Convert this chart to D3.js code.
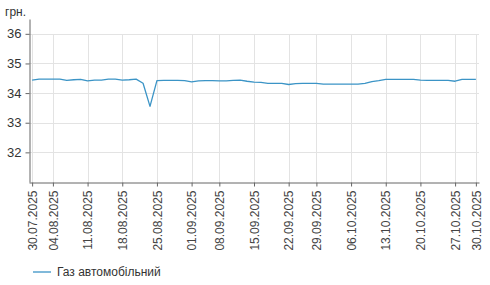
<!DOCTYPE html>
<html>
<head>
<meta charset="utf-8">
<script src="https://cdn.jsdelivr.net/npm/d3@7"></script>
<style>
  body { margin: 0; background: #fff; }
  svg { font-family: Arial, "Liberation Sans", sans-serif; }
</style>
</head>
<body>
<svg id="chart" width="490" height="285"></svg>
<script>
// дні з даними (робочі дні)
var dates = [
    "30.07.2025", "31.07.2025", "01.08.2025",
    "04.08.2025", "05.08.2025", "06.08.2025", "07.08.2025", "08.08.2025",
    "11.08.2025", "12.08.2025", "13.08.2025", "14.08.2025", "15.08.2025",
    "18.08.2025", "19.08.2025", "20.08.2025", "21.08.2025", "22.08.2025",
    "25.08.2025", "26.08.2025", "27.08.2025", "28.08.2025", "29.08.2025",
    "01.09.2025", "02.09.2025", "03.09.2025", "04.09.2025",
    "08.09.2025", "09.09.2025", "10.09.2025", "11.09.2025", "12.09.2025",
    "15.09.2025", "16.09.2025", "17.09.2025", "18.09.2025", "19.09.2025",
    "22.09.2025", "23.09.2025", "24.09.2025", "25.09.2025",
    "29.09.2025", "30.09.2025", "01.10.2025", "02.10.2025", "03.10.2025",
    "06.10.2025", "07.10.2025", "08.10.2025", "09.10.2025", "10.10.2025",
    "13.10.2025", "14.10.2025", "15.10.2025", "16.10.2025", "17.10.2025",
    "20.10.2025", "21.10.2025", "22.10.2025", "23.10.2025", "24.10.2025",
    "27.10.2025", "28.10.2025", "29.10.2025", "30.10.2025"
];

// Газ автомобільний, грн.
var gasPrice = [
    34.44, 34.47, 34.47,
    34.47, 34.47, 34.43, 34.45, 34.46,
    34.41, 34.44, 34.44, 34.47, 34.47,
    34.44, 34.45, 34.47, 34.33, 33.55,
    34.42, 34.43, 34.43, 34.43, 34.42,
    34.38, 34.41, 34.42, 34.42,
    34.41, 34.41, 34.43, 34.44, 34.40,
    34.37, 34.36, 34.33, 34.33, 34.33,
    34.29, 34.32, 34.33, 34.33,
    34.33, 34.30, 34.30, 34.30, 34.30,
    34.30, 34.30, 34.33, 34.39, 34.42,
    34.46, 34.46, 34.46, 34.46, 34.46,
    34.44, 34.43, 34.43, 34.43, 34.43,
    34.40, 34.46, 34.46, 34.46
];

var tickDates = [
    "30.07.2025", "04.08.2025", "11.08.2025", "18.08.2025", "25.08.2025",
    "01.09.2025", "08.09.2025", "15.09.2025", "22.09.2025", "29.09.2025",
    "06.10.2025", "13.10.2025", "20.10.2025", "27.10.2025", "30.10.2025"
];
var yTicks = [32, 33, 34, 35, 36];

var seriesName = "Газ автомобільний";
var unitLabel = "грн.";

var svg = d3.select("#chart");
var plotLeft = 29, plotRight = 479, plotTop = 19, plotBottom = 182;
var lineColor = "#3b94c6";

var x = d3.scalePoint()
    .domain(dates)
    .range([plotLeft, plotRight])
    .padding(0.45);

var y = d3.scaleLinear()
    .domain([31, 36.5])
    .range([plotBottom, plotTop]);

// сітка
svg.append("g")
    .selectAll("line")
    .data(yTicks)
    .enter().append("line")
    .attr("x1", plotLeft).attr("x2", plotRight)
    .attr("y1", function(d) { return Math.round(y(d)) + 0.5; })
    .attr("y2", function(d) { return Math.round(y(d)) + 0.5; })
    .attr("stroke", "#e3e3e3");

svg.append("g")
    .selectAll("line")
    .data(tickDates)
    .enter().append("line")
    .attr("x1", function(d) { return Math.round(x(d)) + 0.5; })
    .attr("x2", function(d) { return Math.round(x(d)) + 0.5; })
    .attr("y1", Math.round(y(36)))
    .attr("y2", plotBottom)
    .attr("stroke", "#e3e3e3");

// осі
var yAxis = svg.append("g")
    .attr("transform", "translate(" + (plotLeft + 0.5) + ",0)")
    .call(d3.axisLeft(y).tickValues(yTicks).tickFormat(d3.format("d"))
        .tickSize(4).tickPadding(4).tickSizeOuter(0));
yAxis.select(".domain").attr("stroke", "#666");
yAxis.selectAll(".tick line").attr("stroke", "#666");
yAxis.selectAll("text")
    .attr("fill", "#333")
    .style("font-size", "13px");

var xAxis = svg.append("g")
    .attr("transform", "translate(0," + (plotBottom + 0.5) + ")")
    .call(d3.axisBottom(x).tickValues(tickDates).tickSize(4).tickSizeOuter(0));
xAxis.select(".domain").attr("stroke", "#666");
xAxis.selectAll(".tick line").attr("stroke", "#666");
xAxis.selectAll("text")
    .attr("fill", "#444")
    .style("font-size", "12px")
    .style("text-anchor", "end")
    .attr("transform", "rotate(-90)")
    .attr("x", -8)
    .attr("y", 0)
    .attr("dy", "0.35em");

// лінія
var line = d3.line()
    .x(function(d, i) { return x(dates[i]); })
    .y(function(d) { return y(d); });

svg.append("path")
    .datum(gasPrice)
    .attr("d", line)
    .attr("fill", "none")
    .attr("stroke", lineColor)
    .attr("stroke-width", 1.3)
    .attr("stroke-linejoin", "round");

// підпис одиниць
svg.append("text")
    .attr("x", 5)
    .attr("y", 16)
    .attr("fill", "#333")
    .style("font-size", "12px")
    .text(unitLabel);

// легенда
var legend = svg.append("g").attr("transform", "translate(33,272)");
legend.append("line")
    .attr("x1", 0).attr("x2", 18)
    .attr("stroke", lineColor)
    .attr("stroke-width", 1.3);
legend.append("text")
    .attr("x", 24)
    .attr("dy", "0.35em")
    .attr("fill", "#333")
    .style("font-size", "12px")
    .text(seriesName);
</script>
</body>
</html>
